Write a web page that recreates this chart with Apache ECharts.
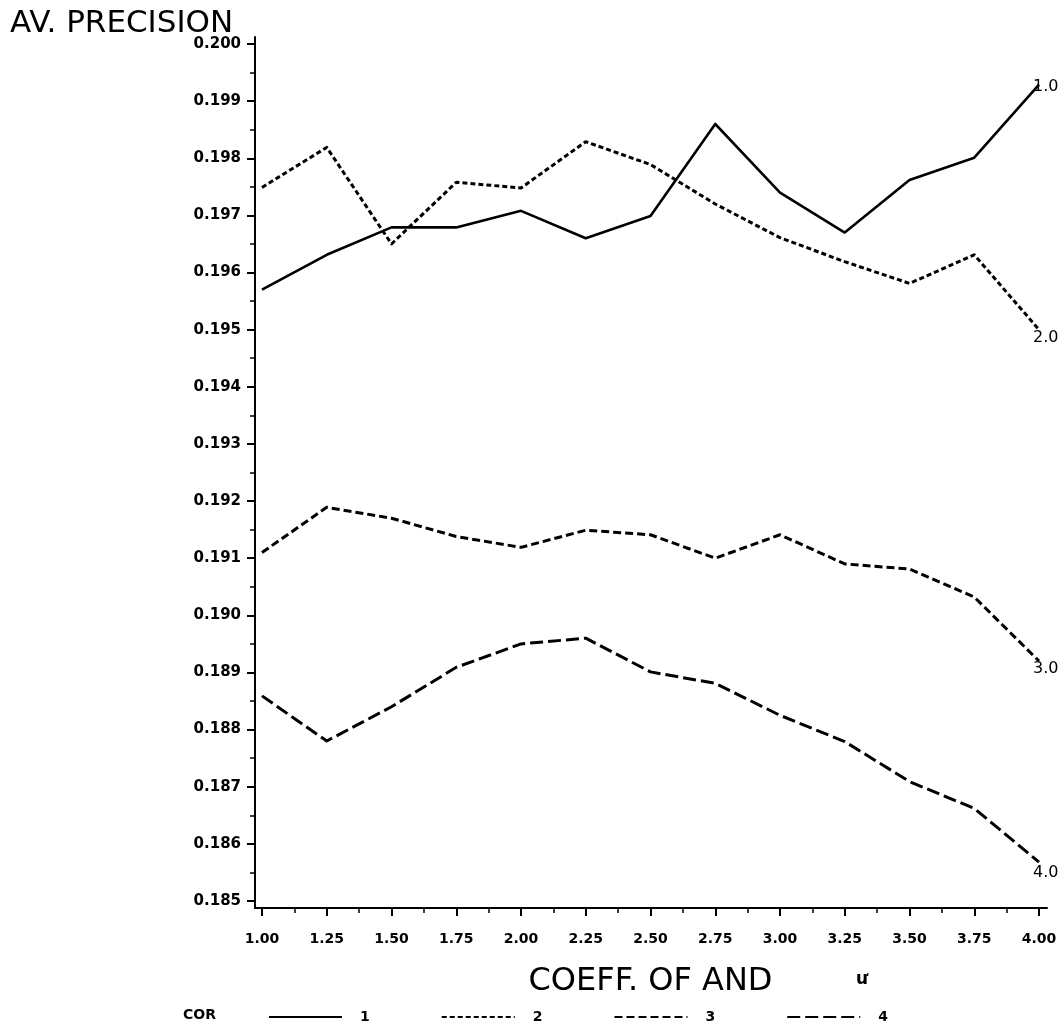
<!DOCTYPE html>
<html>
<head>
<meta charset="utf-8">
<script src="https://cdn.jsdelivr.net/npm/echarts@6/dist/echarts.min.js"></script>
<style>
  html, body { margin: 0; padding: 0; background: #fff; }
  #chart { width: 1062px; height: 1028px; }
</style>
</head>
<body>
<div id="chart"></div>
<script>
// Coefficient of AND (x) against average precision (y), one curve per COR setting
const coeffs = [1.00, 1.25, 1.50, 1.75, 2.00, 2.25, 2.50, 2.75, 3.00, 3.25, 3.50, 3.75, 4.00];

const cor1 = [0.19570, 0.19631, 0.19679, 0.19679, 0.19708, 0.19660, 0.19699, 0.19860, 0.19740, 0.19670, 0.19762, 0.19801, 0.19929];
const cor2 = [0.19749, 0.19819, 0.19650, 0.19758, 0.19748, 0.19829, 0.19789, 0.19720, 0.19661, 0.19619, 0.19581, 0.19631, 0.19500];
const cor3 = [0.19110, 0.19189, 0.19170, 0.19138, 0.19119, 0.19149, 0.19141, 0.19100, 0.19141, 0.19090, 0.19081, 0.19032, 0.18920];
const cor4 = [0.18859, 0.18780, 0.18840, 0.18909, 0.18950, 0.18960, 0.18901, 0.18881, 0.18825, 0.18779, 0.18709, 0.18662, 0.18568];

const seriesNames = ['1', '2', '3', '4'];
const endTags = ['1.0', '2.0', '3.0', '4.0'];

const xMin = 1, xMax = 4, xStep = 0.25;
const yMin = 0.185, yMax = 0.200, yStep = 0.001;

const FONT = 'DejaVu Sans';
const INK = '#000';

const chart = echarts.init(document.getElementById('chart'), null, { renderer: 'canvas' });

function pairs(vals) {
  return coeffs.map((c, i) => [c, vals[i]]);
}

const dashes = ['solid', [5, 3], [8, 4], [13, 5]];
const widths = [2.6, 3, 3, 3];
const tagOffsets = [[-14, 2], [-14, 8], [-14, 8], [-14, 11]];

const allValues = [cor1, cor2, cor3, cor4];

const series = allValues.map((vals, i) => ({
  name: seriesNames[i],
  type: 'line',
  xAxisIndex: 0,
  yAxisIndex: 0,
  data: pairs(vals),
  symbol: 'none',
  silent: true,
  animation: false,
  lineStyle: { color: INK, width: widths[i], type: dashes[i], cap: 'butt', join: 'round' },
  endLabel: {
    show: true,
    formatter: endTags[i],
    color: INK,
    fontFamily: FONT,
    fontSize: 16,
    offset: tagOffsets[i]
  }
}));

chart.setOption({
  backgroundColor: '#fff',
  animation: false,
  title: [
    {
      text: 'AV. PRECISION',
      left: 10, top: 8, padding: 0,
      textStyle: { fontFamily: FONT, fontSize: 31, fontWeight: 'normal', color: INK }
    },
    {
      text: 'COR',
      left: 183, top: 1008, padding: 0,
      textStyle: { fontFamily: FONT, fontSize: 14, fontWeight: 'bold', color: INK }
    }
  ],
  legend: {
    left: 268, top: 1010, padding: 0,
    itemWidth: 73, itemHeight: 14, itemGap: 71,
    selectedMode: false,
    data: seriesNames,
    itemStyle: { opacity: 0, borderWidth: 0 },
    textStyle: { fontFamily: FONT, fontSize: 14, fontWeight: 'bold', color: INK, padding: [0, 0, 0, 13] }
  },
  grid: [
    // plotting area: exactly the data range
    { left: 262, right: 23, top: 44, bottom: 127, containLabel: false },
    // frame: the axis lines run a little past the data range on every side
    { left: 255, right: 15, top: 37, bottom: 120, containLabel: false }
  ],
  xAxis: [
    {
      gridIndex: 0,
      type: 'value', min: xMin, max: xMax, interval: xStep,
      position: 'bottom', offset: 7,
      name: 'COEFF. OF AND', nameLocation: 'middle', nameGap: 58,
      nameTextStyle: { fontFamily: FONT, fontSize: 32, color: INK },
      axisLine: { show: false },
      axisTick: { show: true, length: 8, lineStyle: { color: INK, width: 2 } },
      minorTick: { show: true, splitNumber: 2, length: 5, lineStyle: { color: INK, width: 1.5 } },
      splitLine: { show: false },
      axisLabel: {
        margin: 24, color: INK, fontFamily: FONT, fontSize: 14, fontWeight: 'bold',
        formatter: v => v.toFixed(2)
      }
    },
    {
      gridIndex: 1,
      type: 'value', min: 0, max: 1, position: 'bottom',
      axisLine: { show: true, lineStyle: { color: INK, width: 2 } },
      axisTick: { show: false }, axisLabel: { show: false }, splitLine: { show: false }
    }
  ],
  yAxis: [
    {
      gridIndex: 0,
      type: 'value', min: yMin, max: yMax, interval: yStep,
      position: 'left', offset: 7,
      axisLine: { show: false },
      axisTick: { show: true, length: 8, lineStyle: { color: INK, width: 2 } },
      minorTick: { show: true, splitNumber: 2, length: 5, lineStyle: { color: INK, width: 1.5 } },
      splitLine: { show: false },
      axisLabel: {
        margin: 14, color: INK, fontFamily: FONT, fontSize: 15, fontWeight: 'bold',
        formatter: v => v.toFixed(3)
      }
    },
    {
      gridIndex: 1,
      type: 'value', min: 0, max: 1, position: 'left',
      axisLine: { show: true, lineStyle: { color: INK, width: 2 } },
      axisTick: { show: false }, axisLabel: { show: false }, splitLine: { show: false }
    }
  ],
  graphic: [
    {
      type: 'text', left: 856, top: 971,
      style: { text: 'ư', fontFamily: FONT, fontSize: 17, fontWeight: 'bold', fill: INK }
    }
  ],
  series: series
});
</script>
</body>
</html>
